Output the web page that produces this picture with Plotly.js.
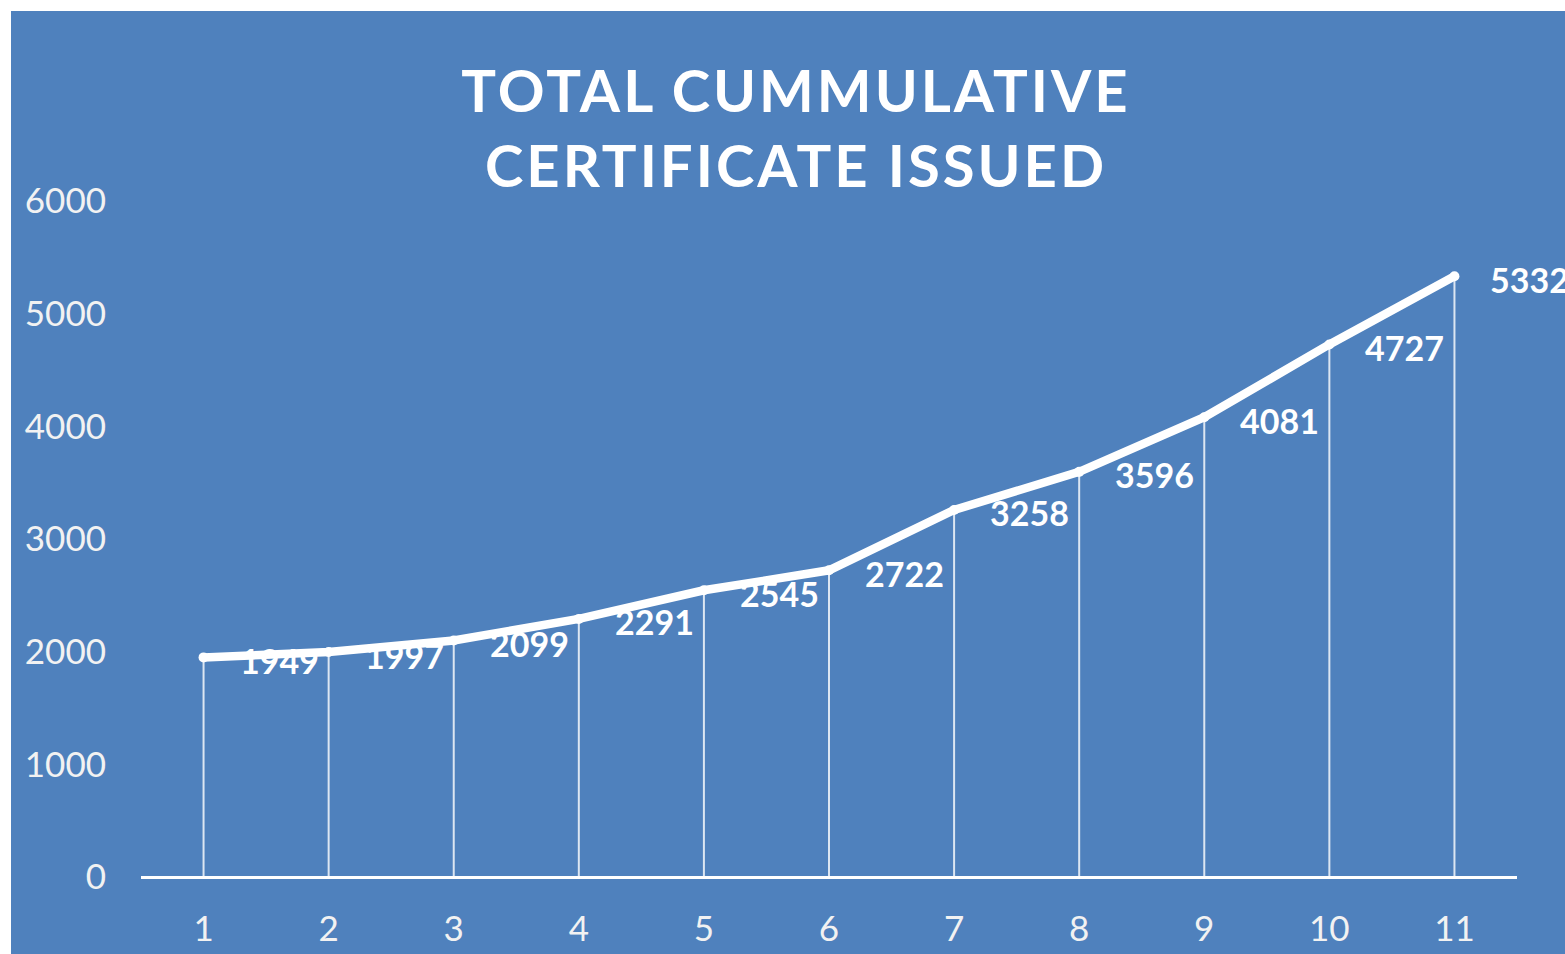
<!DOCTYPE html>
<html>
<head>
<meta charset="utf-8">
<script src="https://cdn.plot.ly/plotly-3.0.1.min.js"></script>
<style>
  html, body { margin: 0; padding: 0; background: #ffffff; overflow: hidden; }
  #chart { position: absolute; left: 11px; top: 11px; width: 1554px; height: 943px; }
  .gtitle { letter-spacing: 3px; }
</style>
</head>
<body>
<div id="chart"></div>
<script>
const categories = [1, 2, 3, 4, 5, 6, 7, 8, 9, 10, 11];
const certificates = [1949, 1997, 2099, 2291, 2545, 2722, 3258, 3596, 4081, 4727, 5332];
const yTicks = [0, 1000, 2000, 3000, 4000, 5000, 6000];
const titleText = 'TOTAL CUMMULATIVE<br>CERTIFICATE ISSUED';

const BLUE = '#4F81BD';
const FONT = 'Lato, "Open Sans", sans-serif';

const dropLines = {
  x: categories,
  y: certificates,
  type: 'scatter',
  mode: 'markers',
  marker: { size: 1, color: 'rgba(0,0,0,0)' },
  error_y: {
    type: 'data',
    symmetric: false,
    array: certificates.map(() => 0),
    arrayminus: certificates,
    color: 'rgba(255,255,255,0.8)',
    thickness: 2,
    width: 0
  },
  hoverinfo: 'skip',
  showlegend: false
};

const mainLine = {
  x: categories,
  y: certificates,
  type: 'scatter',
  mode: 'lines+markers',
  line: { color: '#ffffff', width: 8.5 },
  marker: { color: '#ffffff', size: 10 },
  showlegend: false
};

const annotations = categories.map((c, i) => ({
  x: c,
  y: certificates[i],
  text: String(certificates[i]),
  showarrow: false,
  xanchor: 'left',
  yanchor: 'middle',
  xshift: 34,
  yshift: -3,
  font: { family: FONT, size: 34, color: '#ffffff', weight: 'bold' }
}));

const layout = {
  width: 1554,
  height: 943,
  paper_bgcolor: BLUE,
  plot_bgcolor: BLUE,
  margin: { l: 130, r: 48, t: 190, b: 77 },
  title: {
    text: titleText,
    font: { family: FONT, size: 58, color: '#ffffff', weight: 'bold' },
    xref: 'container',
    x: 785 / 1554,
    xanchor: 'center',
    yref: 'container',
    y: 1 - 101 / 943,
    yanchor: 'top'
  },
  xaxis: {
    range: [0.5, 11.5],
    tickvals: categories,
    ticktext: categories.map(String),
    showgrid: false,
    zeroline: false,
    showline: false,
    ticks: '',
    ticklabelstandoff: 28,
    tickfont: { family: FONT, size: 35, color: '#f2f2f2' },
    fixedrange: true
  },
  yaxis: {
    range: [0, 6000],
    tickvals: yTicks,
    ticktext: yTicks.map(String),
    showgrid: false,
    zeroline: true,
    zerolinecolor: '#ffffff',
    zerolinewidth: 3,
    showline: false,
    ticks: '',
    ticklabelstandoff: 34,
    tickfont: { family: FONT, size: 35, color: '#f2f2f2' },
    fixedrange: true
  },
  annotations: annotations,
  showlegend: false
};

Plotly.newPlot('chart', [dropLines, mainLine], layout, { displayModeBar: false, staticPlot: true });
</script>
</body>
</html>
